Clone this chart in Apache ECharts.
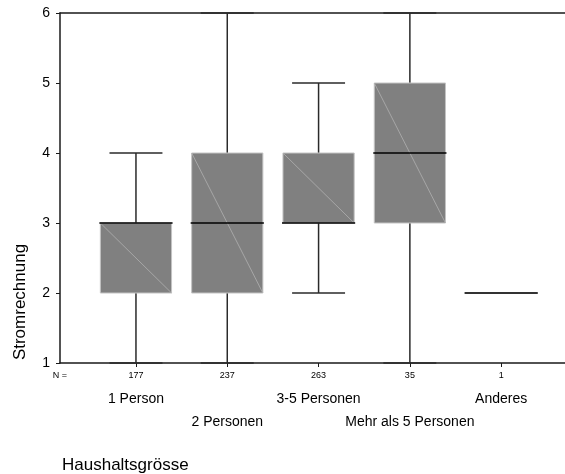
<!DOCTYPE html>
<html>
<head>
<meta charset="utf-8">
<script src="https://cdn.jsdelivr.net/npm/echarts@6/dist/echarts.min.js"></script>
<style>
  html, body { margin: 0; padding: 0; background: #fff; }
  #chart { width: 565px; height: 474px; }
</style>
</head>
<body>
<div id="chart"></div>
<script>
// Kategorien und Fallzahlen
const categories = ['1 Person', '2 Personen', '3-5 Personen', 'Mehr als 5 Personen', 'Anderes']
const counts = [177, 237, 263, 35, 1]
// Boxplot-Kennwerte (Stromrechnung)
const mins = [1, 1, 2, 1, 2]
const q1s = [2, 2, 3, 3, 2]
const medians = [3, 3, 3, 4, 2]
const q3s = [3, 4, 4, 5, 2]
const maxs = [4, 6, 5, 6, 2]
const yTicks = [1, 2, 3, 4, 5, 6]

const font = 'Liberation Sans, Arial, sans-serif'
const xMin = -0.832
const xMax = 4.699

const boxData = categories.map((c, i) => [i, mins[i], q1s[i], medians[i], q3s[i], maxs[i]])

let myChart = echarts.init(document.getElementById('chart'))

function renderBox (params, api) {
  const i = api.value(0)
  const lo = api.value(1), q1 = api.value(2), med = api.value(3), q3 = api.value(4), hi = api.value(5)
  const half = 0.39
  const capHalf = 0.29
  const pTop = api.coord([i - half, q3])
  const pBot = api.coord([i + half, q1])
  const cMax = api.coord([i, hi])
  const cMin = api.coord([i, lo])
  const cQ3 = api.coord([i, q3])
  const cQ1 = api.coord([i, q1])
  const capL = api.coord([i - capHalf, hi])[0]
  const capR = api.coord([i + capHalf, hi])[0]
  const medL = api.coord([i - half, med])
  const medR = api.coord([i + half, med])
  const whisker = { stroke: '#2a2a2a', lineWidth: 1.5 }
  const children = [
    { type: 'line', shape: { x1: cMax[0], y1: cMax[1], x2: cQ3[0], y2: cQ3[1] }, style: whisker },
    { type: 'line', shape: { x1: cMin[0], y1: cMin[1], x2: cQ1[0], y2: cQ1[1] }, style: whisker },
    { type: 'line', shape: { x1: capL, y1: cMax[1], x2: capR, y2: cMax[1] }, style: whisker },
    { type: 'line', shape: { x1: capL, y1: cMin[1], x2: capR, y2: cMin[1] }, style: whisker }
  ]
  if (q3 > q1) {
    children.push({
      type: 'rect',
      shape: { x: pTop[0], y: pTop[1], width: pBot[0] - pTop[0], height: pBot[1] - pTop[1] },
      style: { fill: '#808080', stroke: '#c4c4c4', lineWidth: 1 }
    })
    children.push({
      type: 'line',
      shape: { x1: pTop[0], y1: pTop[1], x2: pBot[0], y2: pBot[1] },
      style: { stroke: '#b0b0b0', lineWidth: 0.8 }
    })
  }
  children.push({
    type: 'line',
    shape: { x1: medL[0] - 1, y1: medL[1], x2: medR[0] + 1, y2: medR[1] },
    style: { stroke: q3 > q1 ? '#000' : '#333', lineWidth: q3 > q1 ? 1.6 : 2 }
  })
  return { type: 'group', children: children }
}

let option = {
  animation: false,
  title: {
    text: 'Haushaltsgrösse',
    left: 57,
    top: 452,
    textStyle: { fontFamily: font, fontSize: 17, fontWeight: 'normal', color: '#000' }
  },
  graphic: [
    {
      type: 'text',
      x: 20,
      y: 302,
      rotation: Math.PI / 2,
      style: {
        text: 'Stromrechnung',
        font: '17px ' + font,
        fill: '#000',
        align: 'center',
        verticalAlign: 'middle'
      }
    }
  ],
  grid: { left: 60, right: 0, top: 13, bottom: 111 },
  xAxis: [
    {
      // untere Achse mit N-Werten
      type: 'value',
      position: 'bottom',
      min: xMin,
      max: xMax,
      splitLine: { show: false },
      axisLine: { show: true, onZero: false, lineStyle: { color: '#1a1a1a', width: 1.5 } },
      axisTick: { show: true, customValues: [0, 1, 2, 3, 4], length: 4, lineStyle: { color: '#1a1a1a' } },
      axisLabel: {
        customValues: [xMin, 0, 1, 2, 3, 4],
        margin: 8,
        fontFamily: font,
        fontSize: 9,
        color: '#000',
        formatter: v => (v < -0.5 ? 'N =' : String(counts[Math.round(v)]))
      }
    },
    {
      // Kategorienamen in zwei Zeilen
      type: 'value',
      position: 'bottom',
      min: xMin,
      max: xMax,
      splitLine: { show: false },
      axisLine: { show: false, onZero: false },
      axisTick: { show: false },
      axisLabel: {
        customValues: [0, 1, 2, 3, 4],
        margin: 25,
        fontFamily: font,
        fontSize: 14,
        lineHeight: 23,
        color: '#000',
        formatter: v => {
          const k = Math.round(v)
          return (k % 2 === 1 ? '\n' : '') + categories[k]
        }
      }
    },
    {
      // obere Rahmenlinie
      type: 'value',
      position: 'top',
      min: xMin,
      max: xMax,
      splitLine: { show: false },
      axisLine: { show: true, onZero: false, lineStyle: { color: '#1a1a1a', width: 1.5 } },
      axisTick: { show: false },
      axisLabel: { show: false }
    }
  ],
  yAxis: {
    type: 'value',
    min: yTicks[0],
    max: yTicks[yTicks.length - 1],
    interval: 1,
    splitLine: { show: false },
    axisLine: { show: true, onZero: false, lineStyle: { color: '#1a1a1a', width: 1.5 } },
    axisTick: { show: true, length: 4, lineStyle: { color: '#1a1a1a' } },
    axisLabel: { margin: 10, fontFamily: font, fontSize: 14, color: '#000' }
  },
  series: [
    {
      type: 'custom',
      xAxisIndex: 0,
      yAxisIndex: 0,
      clip: false,
      renderItem: renderBox,
      encode: { x: 0, y: [1, 2, 3, 4, 5] },
      data: boxData
    }
  ]
}
myChart.setOption(option)
</script>
</body>
</html>
